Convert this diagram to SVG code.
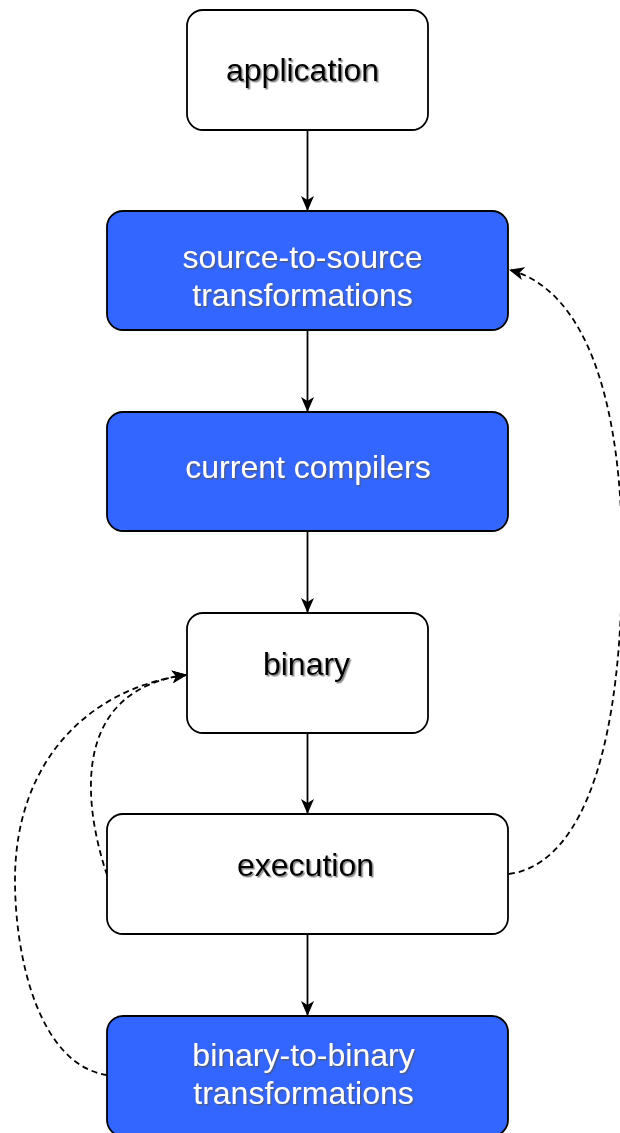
<svg xmlns="http://www.w3.org/2000/svg" width="620" height="1133" viewBox="0 0 620 1133">
  <style>
    .box { stroke: #000; stroke-width: 1.8; }
    .plain { fill: #ffffff; }
    .blue { fill: #3366ff; }
    .lbl { font-family: "Liberation Sans", Arial, sans-serif; font-size: 32px; text-anchor: middle; filter: url(#shadow); }
    .dark { fill: #000; }
    .light { fill: #fff; }
    .flow { fill: none; stroke: #000; stroke-width: 1.8; marker-end: url(#arrow); }
    .loop { fill: none; stroke: #000; stroke-width: 1.8; stroke-dasharray: 6 4; marker-end: url(#arrow); }
  </style>
  <defs>
    <filter id="shadow" x="-10%" y="-20%" width="120%" height="150%">
      <feDropShadow dx="1.5" dy="1.5" stdDeviation="0.6" flood-color="#555" flood-opacity="0.7"/>
    </filter>
    <marker id="arrow" viewBox="0 0 15 13" refX="14" refY="6.5" markerWidth="15" markerHeight="13" markerUnits="userSpaceOnUse" orient="auto">
      <path d="M0,0 L15,6.5 L0,13 L4,6.5 Z" fill="#000"/>
    </marker>
  </defs>

  <!-- connectors -->
  <g id="connectors">
    <path class="flow" d="M307.5,131 L307.5,210"/>
    <path class="flow" d="M307.5,331 L307.5,411"/>
    <path class="flow" d="M307.5,532 L307.5,612"/>
    <path class="flow" d="M307.5,734 L307.5,813"/>
    <path class="flow" d="M307.5,935 L307.5,1015"/>
    <!-- execution back to source-to-source -->
    <path class="loop" d="M509,874 C570,866 620,780 622,570 C624,400 585,290 510,270"/>
    <!-- execution back to binary -->
    <path class="loop" d="M107,875 C82,800 72,690 186,675"/>
    <!-- binary-to-binary back to binary -->
    <path class="loop" d="M107,1075 C40,1065 15,960 15,880 C15,760 90,688 186,675"/>
  </g>

  <g id="application">
    <rect class="box plain" x="187" y="10" width="241" height="120" rx="16"/>
    <text class="lbl dark" x="302.5" y="81">application</text>
  </g>

  <g id="source-to-source">
    <rect class="box blue" x="107" y="211" width="401" height="119" rx="16"/>
    <text class="lbl light" x="302.5" y="268">source-to-source</text>
    <text class="lbl light" x="302.5" y="306">transformations</text>
  </g>

  <g id="current-compilers">
    <rect class="box blue" x="107" y="412" width="401" height="119" rx="16"/>
    <text class="lbl light" x="308" y="478">current compilers</text>
  </g>

  <g id="binary">
    <rect class="box plain" x="187" y="613" width="241" height="120" rx="16"/>
    <text class="lbl dark" x="306.5" y="675">binary</text>
  </g>

  <g id="execution">
    <rect class="box plain" x="107" y="814" width="401" height="120" rx="16"/>
    <text class="lbl dark" x="305.5" y="876">execution</text>
  </g>

  <g id="binary-to-binary">
    <rect class="box blue" x="107" y="1016" width="401" height="120" rx="16"/>
    <text class="lbl light" x="303.5" y="1066">binary-to-binary</text>
    <text class="lbl light" x="303.5" y="1104">transformations</text>
  </g>
</svg>
